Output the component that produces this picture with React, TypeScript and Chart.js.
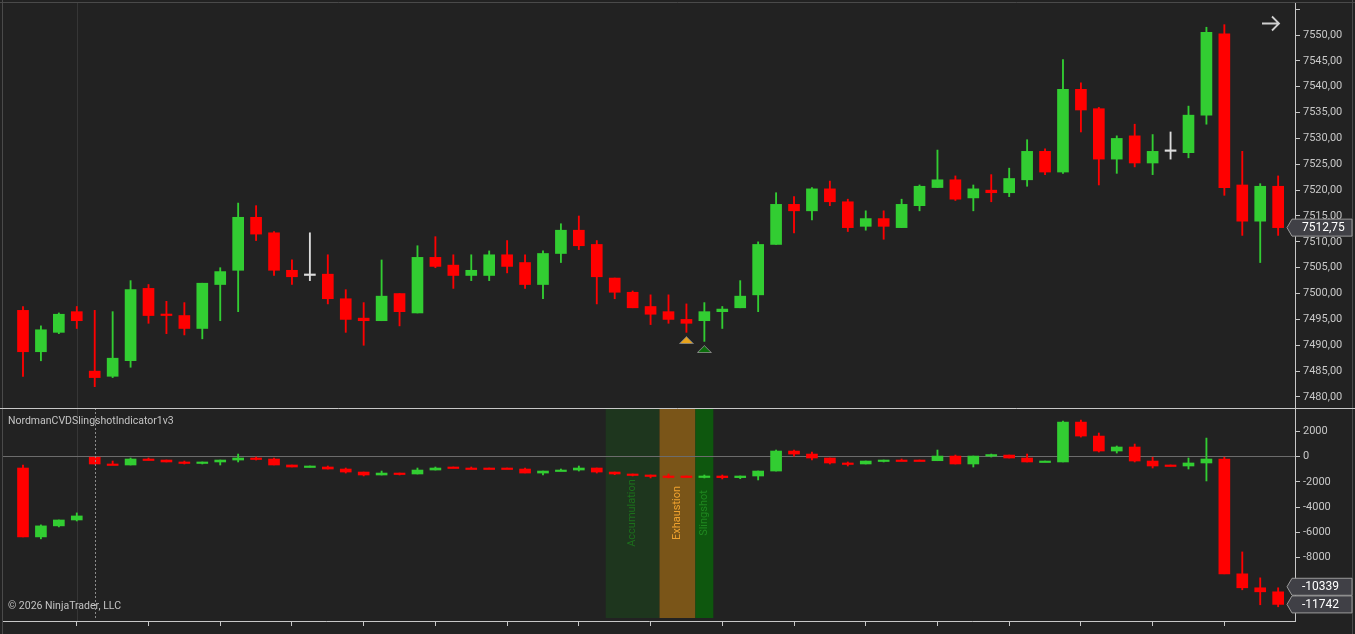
import React, { useEffect, useRef } from 'react';
import Chart from 'chart.js/auto';

// price candles (ES, 71 bars)
const priceOpen = [
  7496.75, 7488.75, 7492.5, 7496.5, 7485.0, 7484.0, 7487.0, 7501.0, 7496.0, 7495.75,
  7493.25, 7501.75, 7504.5, 7514.75, 7511.75, 7504.5, 7503.5, 7503.75, 7499.0, 7495.25,
  7494.75, 7500.0, 7496.25, 7507.0, 7505.5, 7503.5, 7503.5, 7507.5, 7506.0, 7501.75,
  7507.75, 7512.25, 7509.5, 7503.0, 7500.25, 7497.5, 7496.5, 7495.0, 7494.75, 7496.5,
  7497.25, 7499.75, 7509.5, 7517.25, 7516.0, 7520.25, 7517.75, 7513.0, 7514.5, 7512.75,
  7517.0, 7520.5, 7522.0, 7518.5, 7520.0, 7519.5, 7522.0, 7527.5, 7523.5, 7539.5,
  7535.75, 7526.0, 7530.5, 7525.25, 7527.5, 7527.25, 7534.5, 7550.25, 7521.0, 7514.0, 7520.75,
];
const priceHigh = [
  7497.5, 7493.75, 7496.25, 7497.5, 7496.75, 7496.5, 7502.5, 7501.75, 7498.5, 7498.25,
  7502.0, 7505.0, 7517.5, 7517.0, 7512.0, 7506.5, 7511.75, 7507.5, 7500.75, 7498.25,
  7506.5, 7500.0, 7509.25, 7511.0, 7507.5, 7507.5, 7508.25, 7510.25, 7507.5, 7508.25,
  7513.5, 7515.0, 7510.25, 7503.0, 7500.5, 7499.75, 7499.75, 7498.0, 7498.25, 7497.5,
  7502.5, 7510.0, 7519.5, 7518.75, 7520.5, 7521.75, 7518.25, 7516.0, 7516.0, 7518.25,
  7521.0, 7527.75, 7522.75, 7521.0, 7523.0, 7524.25, 7529.75, 7528.0, 7545.25, 7540.75,
  7536.0, 7530.5, 7532.75, 7530.75, 7531.25, 7536.25, 7551.5, 7552.0, 7527.5, 7521.25, 7522.75,
];
const priceLow = [
  7484.0, 7487.0, 7492.25, 7493.25, 7482.0, 7483.75, 7485.75, 7494.25, 7492.25, 7492.0,
  7491.25, 7494.75, 7496.5, 7510.25, 7503.5, 7501.75, 7502.5, 7498.0, 7492.5, 7490.0,
  7494.75, 7493.75, 7496.25, 7505.0, 7501.0, 7502.5, 7502.5, 7504.0, 7501.0, 7499.0,
  7506.0, 7508.5, 7498.0, 7499.0, 7497.25, 7494.0, 7494.25, 7492.5, 7490.75, 7493.25,
  7497.25, 7496.5, 7509.5, 7511.75, 7514.25, 7517.0, 7512.0, 7512.25, 7510.5, 7512.75,
  7516.0, 7520.5, 7518.0, 7516.0, 7517.75, 7518.75, 7520.75, 7523.0, 7523.25, 7531.25,
  7521.0, 7523.25, 7524.5, 7523.0, 7526.0, 7526.25, 7532.75, 7519.0, 7511.25, 7506.0, 7511.25,
];
const priceClose = [
  7488.75, 7493.0, 7496.0, 7494.75, 7483.75, 7487.5, 7500.75, 7495.75, 7495.75, 7493.25,
  7502.0, 7504.25, 7514.75, 7511.5, 7504.5, 7503.25, 7503.5, 7499.0, 7495.0, 7494.75,
  7499.5, 7496.5, 7507.0, 7505.25, 7503.5, 7504.5, 7507.5, 7505.25, 7501.75, 7507.75,
  7512.25, 7509.25, 7503.25, 7500.25, 7497.25, 7496.0, 7495.0, 7494.25, 7496.5, 7497.0,
  7499.5, 7509.5, 7517.25, 7516.0, 7520.25, 7517.75, 7512.75, 7514.5, 7513.0, 7517.25,
  7520.75, 7522.0, 7518.25, 7520.25, 7519.5, 7522.25, 7527.5, 7523.5, 7539.5, 7535.5,
  7526.0, 7530.0, 7525.25, 7527.5, 7527.5, 7534.5, 7550.5, 7520.5, 7514.0, 7520.75, 7512.75,
];

// cumulative volume delta candles
const cvdOpen = [
  -900, -6376, -5500, -5030, 0, -580, -660, -185, -265, -420,
  -500, -420, -265, -105, -185, -660, -820, -820, -980, -1220,
  -1455, -1300, -1375, -1060, -820, -900, -900, -900, -980, -1300,
  -1110, -1060, -900, -1220, -1375, -1455, -1535, -1535, -1590, -1535,
  -1665, -1535, -1140, 450, 210, -105, -500, -580, -320, -265,
  -265, -320, 50, -580, 50, 130, -105, -400, -420, 2750,
  1640, 450, 770, -345, -660, -740, -500, -185, -9310, -10420, -10740,
];
const cvdHigh = [
  -660, -5420, -5030, -4470, 0, -345, -105, -105, -265, -345,
  -420, -265, 210, -25, -105, -660, -740, -740, -900, -1220,
  -1140, -1300, -900, -820, -820, -820, -900, -900, -900, -1140,
  -980, -740, -900, -1220, -1375, -1455, -1375, -1535, -1455, -1455,
  -1535, -1140, 530, 530, 370, -105, -420, -345, -265, -185,
  -265, 530, 130, 50, 210, 130, 210, -345, 2830, 2910,
  1880, 850, 1005, 0, -660, -105, 1480, 0, -7570, -9630, -10420,
];
const cvdLow = [
  -6376, -6530, -5580, -5110, -580, -635, -660, -265, -420, -580,
  -580, -660, -420, -265, -660, -820, -820, -980, -1300, -1530,
  -1455, -1455, -1375, -1060, -875, -950, -950, -950, -1300, -1455,
  -1110, -1140, -1300, -1430, -1530, -1690, -1690, -1590, -1690, -1770,
  -1750, -1850, -1140, 50, -265, -580, -740, -580, -420, -320,
  -320, -320, -580, -820, -25, -105, -420, -400, -420, 1560,
  370, 290, -420, -900, -740, -980, -1930, -9310, -10580, -11770, -11930,
];
const cvdClose = [
  -6376, -5500, -5030, -4710, -580, -635, -185, -265, -420, -500,
  -420, -265, -105, -185, -660, -820, -740, -980, -1220, -1455,
  -1300, -1375, -1060, -900, -875, -950, -950, -950, -1300, -1140,
  -1060, -900, -1220, -1375, -1430, -1510, -1590, -1590, -1535, -1665,
  -1535, -1140, 450, 210, -105, -500, -580, -345, -265, -320,
  -320, 50, -580, 50, 130, -105, -420, -345, 2750, 1640,
  450, 770, -345, -740, -740, -500, -185, -9310, -10420, -10740, -11742,
];

const priceTicks = [7480, 7485, 7490, 7495, 7500, 7505, 7510, 7515, 7520, 7525, 7530, 7535, 7540, 7545, 7550, 7555];
const cvdTicks = [2000, 0, -2000, -4000, -6000, -8000];
const timeTicks = [3, 7, 11, 15, 19, 23, 27, 31, 35, 39, 43, 47, 51, 55, 59, 63, 67];

// signals under the price bars
const exhaustionSignal = [{ x: 37, y: 7491.0 }];
const slingshotSignal = [{ x: 38, y: 7489.25 }];

// indicator phases (bar index ranges)
const zoneNames = ['Accumulation', 'Exhaustion', 'Slingshot'];
const zoneStart = [33, 36, 38];
const zoneEnd = [35, 37, 38];

const cvdMarkers = [-10339, -11742];
const sessionBreak = 3;
const cvdReset = 4;

const BG = '#222222';
const GREEN = '#32cd32';
const RED = '#ff0000';
const DOJI = '#dcdcdc';
const AXIS = '#c8c8c8';
const FONT = 'Roboto';

const candleColor = (o: number, c: number) => (c > o ? GREEN : c < o ? RED : DOJI);
const fmtPrice = (v: number) => v.toFixed(2).replace('.', ',');

const makeTriangle = (fill: string, stroke: string) => {
  const c = document.createElement('canvas');
  c.width = 15;
  c.height = 8;
  const g = c.getContext('2d')!;
  g.beginPath();
  g.moveTo(7.5, 0.5);
  g.lineTo(14.5, 7.5);
  g.lineTo(0.5, 7.5);
  g.closePath();
  g.fillStyle = fill;
  g.fill();
  g.strokeStyle = stroke;
  g.lineWidth = 1;
  g.stroke();
  return c;
};

const drawMarker = (ctx: CanvasRenderingContext2D, left: number, y: number, text: string) => {
  const h = 17;
  ctx.beginPath();
  ctx.moveTo(left - 5, y);
  ctx.lineTo(left, y - h / 2);
  ctx.lineTo(1352, y - h / 2);
  ctx.lineTo(1352, y + h / 2);
  ctx.lineTo(left, y + h / 2);
  ctx.closePath();
  ctx.fillStyle = '#404046';
  ctx.fill();
  ctx.strokeStyle = '#9a9a9a';
  ctx.lineWidth = 1;
  ctx.stroke();
  ctx.fillStyle = '#ffffff';
  ctx.font = `12px ${FONT}`;
  ctx.textAlign = 'left';
  ctx.textBaseline = 'middle';
  ctx.fillText(text, left + 10, y + 0.5);
};

const drawFrame = (ctx: CanvasRenderingContext2D, width: number, height: number) => {
  ctx.strokeStyle = '#4a4a4a';
  ctx.lineWidth = 1;
  ctx.beginPath();
  ctx.moveTo(2.5, 0);
  ctx.lineTo(2.5, height);
  ctx.moveTo(1352.5, 0);
  ctx.lineTo(1352.5, height);
  ctx.stroke();
};

const candleSets = (open: number[], high: number[], low: number[], close: number[]) => {
  const colors = open.map((o, i) => candleColor(o, close[i]));
  return [
    {
      label: 'body',
      data: open.map((o, i) => ({ x: i, y: [o, close[i]] })),
      backgroundColor: colors,
      borderWidth: 0,
      barThickness: 11,
      maxBarThickness: 11,
      minBarLength: 1.5,
      grouped: false,
    },
    {
      label: 'wick',
      data: low.map((l, i) => ({ x: i, y: [l, high[i]] })),
      backgroundColor: colors,
      borderWidth: 0,
      barThickness: 1.2,
      maxBarThickness: 1.2,
      grouped: false,
    },
  ];
};

const xRange = { type: 'linear' as const, min: -1.115, max: 70.94, offset: false };

const App = () => {
  const priceRef = useRef<HTMLCanvasElement>(null);
  const cvdRef = useRef<HTMLCanvasElement>(null);

  useEffect(() => {
    const charts: Chart[] = [];

    const priceDecor = {
      id: 'priceDecor',
      beforeDraw: (chart: any) => {
        const { ctx, width, height, chartArea, scales } = chart;
        ctx.save();
        ctx.fillStyle = BG;
        ctx.fillRect(0, 0, width, height);
        const sx = Math.round(scales.x.getPixelForValue(sessionBreak)) + 0.5;
        ctx.strokeStyle = '#363636';
        ctx.beginPath();
        ctx.moveTo(sx, chartArea.top);
        ctx.lineTo(sx, chartArea.bottom);
        ctx.stroke();
        ctx.restore();
      },
      afterDraw: (chart: any) => {
        const { ctx, width, height, chartArea, scales } = chart;
        ctx.save();
        drawFrame(ctx, width, height);
        ctx.strokeStyle = '#4a4a4a';
        ctx.beginPath();
        ctx.moveTo(0, 2.5);
        ctx.lineTo(width, 2.5);
        ctx.stroke();
        // scroll arrow
        ctx.strokeStyle = '#d0d0d0';
        ctx.lineWidth = 1.8;
        ctx.beginPath();
        ctx.moveTo(1262, 23.5);
        ctx.lineTo(1279, 23.5);
        ctx.moveTo(1272, 16.5);
        ctx.lineTo(1279, 23.5);
        ctx.lineTo(1272, 30.5);
        ctx.stroke();
        const last = priceClose[priceClose.length - 1];
        drawMarker(ctx, chartArea.right - 3, scales.y.getPixelForValue(last), fmtPrice(last));
        ctx.restore();
      },
    };

    const cvdDecor = {
      id: 'cvdDecor',
      beforeDraw: (chart: any) => {
        const { ctx, width, height, chartArea, scales } = chart;
        ctx.save();
        ctx.fillStyle = BG;
        ctx.fillRect(0, 0, width, height);
        const sx = Math.round(scales.x.getPixelForValue(sessionBreak)) + 0.5;
        ctx.strokeStyle = '#363636';
        ctx.lineWidth = 1;
        ctx.beginPath();
        ctx.moveTo(sx, chartArea.top);
        ctx.lineTo(sx, chartArea.bottom);
        ctx.stroke();
        const fills = ['#1e361e', '#7a5518', '#0e570e'];
        const inks = ['#1c6f1c', '#f0a22e', '#1f861f'];
        const top = chartArea.top;
        const bottom = chartArea.bottom - 3;
        zoneNames.forEach((name, i) => {
          const x0 = scales.x.getPixelForValue(zoneStart[i] - 0.5);
          const x1 = scales.x.getPixelForValue(zoneEnd[i] + 0.5);
          ctx.fillStyle = fills[i];
          ctx.fillRect(x0, top, x1 - x0, bottom - top);
          ctx.save();
          ctx.translate((x0 + x1) / 2, (top + bottom) / 2);
          ctx.rotate(-Math.PI / 2);
          ctx.fillStyle = inks[i];
          ctx.font = `11px ${FONT}`;
          ctx.textAlign = 'center';
          ctx.textBaseline = 'middle';
          ctx.fillText(name, 0, 0);
          ctx.restore();
        });
        ctx.restore();
      },
      afterDatasetsDraw: (chart: any) => {
        const { ctx, chartArea, scales } = chart;
        const rx = Math.round(scales.x.getPixelForValue(cvdReset)) + 0.5;
        ctx.save();
        ctx.strokeStyle = '#8c8c8c';
        ctx.lineWidth = 1;
        ctx.setLineDash([2, 2]);
        ctx.beginPath();
        ctx.moveTo(rx, chartArea.top);
        ctx.lineTo(rx, chartArea.bottom - 3);
        ctx.stroke();
        ctx.restore();
      },
      afterDraw: (chart: any) => {
        const { ctx, width, height, chartArea, scales } = chart;
        ctx.save();
        drawFrame(ctx, width, height);
        ctx.strokeStyle = AXIS;
        ctx.beginPath();
        ctx.moveTo(0, 0.5);
        ctx.lineTo(width, 0.5);
        ctx.stroke();
        ctx.fillStyle = '#c4c4c4';
        ctx.font = `10.5px ${FONT}`;
        ctx.textAlign = 'left';
        ctx.textBaseline = 'alphabetic';
        ctx.fillText('NordmanCVDSlingshotIndicator1v3', 8, 16);
        ctx.fillText('\u00a9 2026 NinjaTrader, LLC', 8, 201);
        cvdMarkers.forEach((v) => {
          drawMarker(ctx, chartArea.right - 3, scales.y.getPixelForValue(v), String(v));
        });
        ctx.restore();
      },
    };

    const yAxis = (min: number, max: number, ticks: number[], label: (v: number) => string, zeroLine: boolean) => ({
      type: 'linear' as const,
      position: 'right' as const,
      min,
      max,
      beginAtZero: false,
      afterBuildTicks: (s: any) => {
        s.ticks = ticks.map((value) => ({ value }));
      },
      afterFit: (s: any) => {
        s.width = 60;
        s.paddingTop = 0;
        s.paddingBottom = 0;
      },
      border: { color: AXIS },
      grid: {
        drawOnChartArea: zeroLine,
        color: (c: any) => (zeroLine && c.tick && c.tick.value === 0 ? '#6c6c6c' : 'rgba(0,0,0,0)'),
        tickColor: AXIS,
        tickLength: 5,
      },
      ticks: {
        color: AXIS,
        padding: 3,
        font: { family: FONT, size: 11 },
        callback: (v: any) => label(Number(v)),
      },
    });

    const priceCtx = priceRef.current?.getContext('2d');
    if (priceCtx) {
      charts.push(
        new Chart(priceCtx, {
          type: 'bar',
          data: {
            datasets: [
              ...candleSets(priceOpen, priceHigh, priceLow, priceClose),
              {
                type: 'scatter',
                label: 'exhaustion',
                data: exhaustionSignal,
                pointStyle: makeTriangle('#e8a31c', '#7c7c7c'),
                pointRadius: 7,
              },
              {
                type: 'scatter',
                label: 'slingshot',
                data: slingshotSignal,
                pointStyle: makeTriangle('#0b6d0b', '#8a8a8a'),
                pointRadius: 7,
              },
            ] as any,
          },
          options: {
            animation: false,
            responsive: false,
            maintainAspectRatio: false,
            events: [],
            layout: { autoPadding: false, padding: { top: 3, left: 3, right: 0, bottom: 0 } },
            scales: {
              x: { ...xRange, display: false },
              y: yAxis(7477.87, 7556.19, priceTicks, (v) => (v > 7550 ? '' : fmtPrice(v)), false),
            } as any,
            plugins: { legend: { display: false }, tooltip: { enabled: false } },
          },
          plugins: [priceDecor],
        })
      );
    }

    const cvdCtx = cvdRef.current?.getContext('2d');
    if (cvdCtx) {
      charts.push(
        new Chart(cvdCtx, {
          type: 'bar',
          data: { datasets: candleSets(cvdOpen, cvdHigh, cvdLow, cvdClose) as any },
          options: {
            animation: false,
            responsive: false,
            maintainAspectRatio: false,
            events: [],
            layout: { autoPadding: false, padding: { top: 0, left: 3, right: 0, bottom: 0 } },
            scales: {
              x: {
                ...xRange,
                position: 'bottom',
                afterBuildTicks: (s: any) => {
                  s.ticks = timeTicks.map((value) => ({ value }));
                },
                afterFit: (s: any) => {
                  s.height = 13;
                  s.paddingLeft = 0;
                  s.paddingRight = 0;
                },
                border: { color: AXIS },
                grid: { offset: false, drawOnChartArea: false, color: AXIS, tickLength: 5 },
                ticks: { autoSkip: false, maxRotation: 0, callback: () => '' },
              },
              y: yAxis(-13060, 3870, cvdTicks, (v) => String(v), true),
            } as any,
            plugins: { legend: { display: false }, tooltip: { enabled: false } },
          },
          plugins: [cvdDecor],
        })
      );
    }

    return () => {
      charts.forEach((c) => c.destroy());
    };
  }, []);

  return (
    <div style={{ position: 'fixed', left: 0, top: 0, width: 1355, height: 634, background: BG }}>
      <canvas ref={priceRef} width={1355} height={408} style={{ position: 'absolute', left: 0, top: 0, display: 'block' }} />
      <canvas ref={cvdRef} width={1355} height={226} style={{ position: 'absolute', left: 0, top: 408, display: 'block' }} />
    </div>
  );
};

export default App;
